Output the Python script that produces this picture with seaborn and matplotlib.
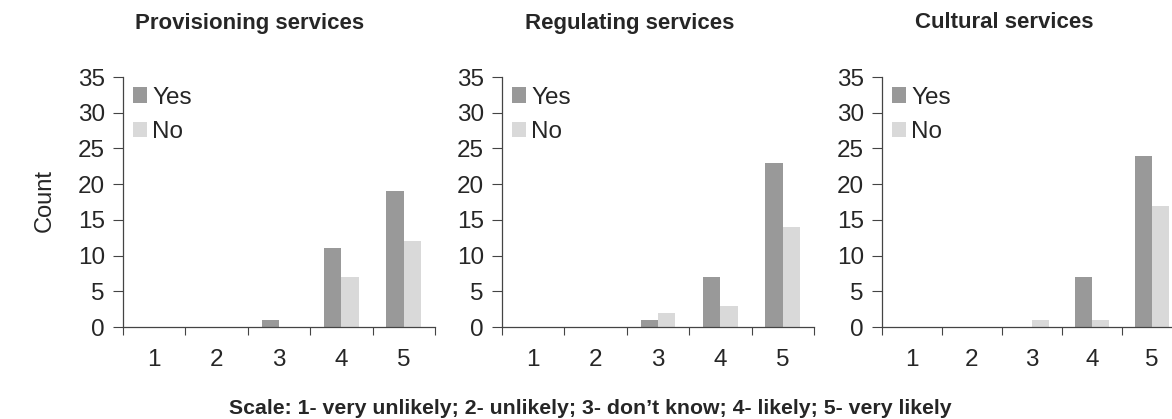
import numpy as np
import pandas as pd
import matplotlib
matplotlib.use("Agg")
import matplotlib.pyplot as plt
import seaborn as sns

# Data
scores = ["1", "2", "3", "4", "5"]
panels = ["Provisioning services", "Regulating services", "Cultural services"]
yes_counts = [
    [0, 0, 1, 11, 19],
    [0, 0, 1, 7, 23],
    [0, 0, 0, 7, 24],
]
no_counts = [
    [0, 0, 0, 7, 12],
    [0, 0, 2, 3, 14],
    [0, 0, 1, 1, 17],
]
y_ticks = [0, 5, 10, 15, 20, 25, 30, 35]
caption = "Scale: 1- very unlikely; 2- unlikely; 3- don\u2019t know; 4- likely; 5- very likely"

sns.set_theme(style="white")
plt.rcParams['font.family'] = ['Liberation Sans', 'DejaVu Sans']

W, H = 1172, 419
fig = plt.figure(figsize=(W / 100, H / 100), dpi=100)

# axes left edge / width in pixels, title centre in pixels
ax_left = [123, 502, 882]
ax_width = [312, 312, 300]
title_x = [250, 630, 1004]
palette = {"Yes": "#999999", "No": "#d9d9d9"}

for i, name in enumerate(panels):
    df = pd.DataFrame({
        "score": scores * 2,
        "count": yes_counts[i] + no_counts[i],
        "answer": ["Yes"] * 5 + ["No"] * 5,
    })
    ax = fig.add_axes([ax_left[i] / W, (H - 327) / H, ax_width[i] / W, 250 / H])
    sns.barplot(data=df, x="score", y="count", hue="answer", palette=palette,
                width=0.56, saturation=1, ax=ax, linewidth=0)
    ax.set_xlim(-0.5, 4.5)
    ax.set_ylim(0, 35)
    ax.set_yticks(y_ticks)
    ax.tick_params(axis="y", labelsize=17.5, length=7, width=0.8, color="#444444",
                   pad=6, left=True)
    # tick marks at category boundaries, labels centred in categories
    ax.set_xticks(np.arange(-0.5, 5, 1.0))
    ax.set_xticklabels([])
    ax.set_xticks(range(5), minor=True)
    ax.set_xticklabels(scores, minor=True)
    ax.tick_params(axis="x", which="major", length=6, width=0.8, color="#444444",
                   direction="out", bottom=True)
    ax.tick_params(axis="x", which="minor", length=0, labelsize=17.5, pad=16)
    for s in ["top", "right"]:
        ax.spines[s].set_visible(False)
    for s in ["left", "bottom"]:
        ax.spines[s].set_color("#444444")
        ax.spines[s].set_linewidth(0.9)
    ax.set_xlabel("")
    ax.set_ylabel("")
    ax.legend(loc="upper left", frameon=False, fontsize=17.5, handlelength=0.6,
              handleheight=0.6, handletextpad=0.2, labelspacing=0.5,
              borderaxespad=0.0, bbox_to_anchor=(0.0, 1.0))
    fig.text(title_x[i] / W, 1 - 23 / H, name, ha="center", va="center",
             fontsize=16, fontweight="bold")

fig.text(45 / W, 1 - 200 / H, "Count", rotation=90, ha="center", va="center",
         fontsize=17)
fig.text(590 / W, 1 - 408 / H, caption, ha="center", va="center",
         fontsize=15.3, fontweight="bold")

fig.savefig("out.png", dpi=100)
